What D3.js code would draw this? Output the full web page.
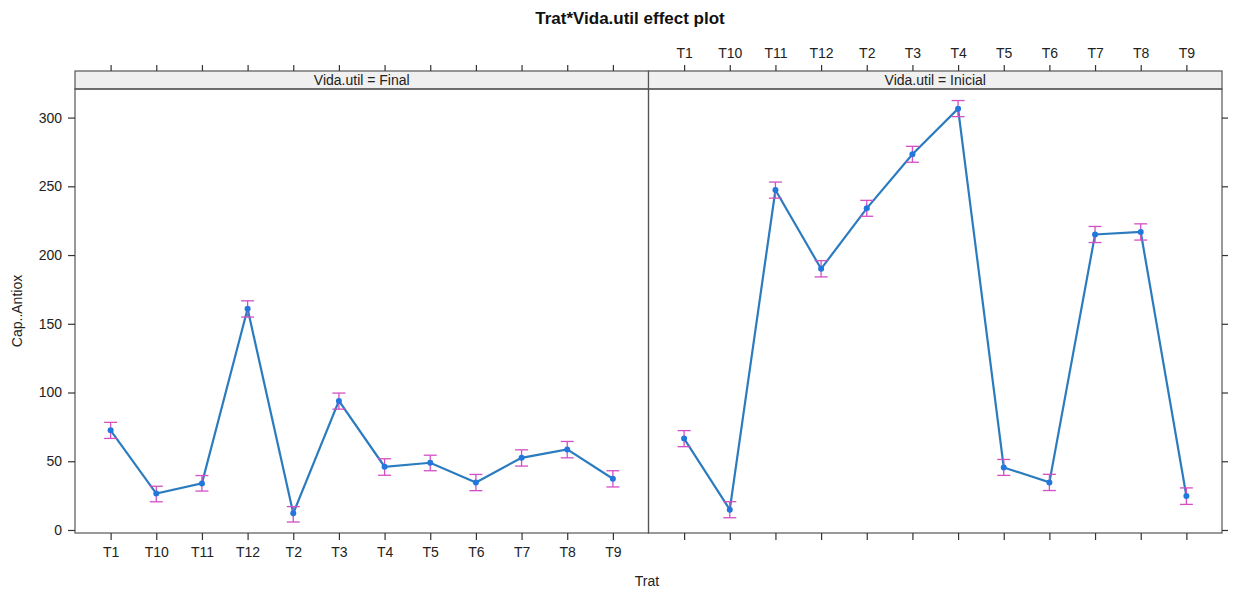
<!DOCTYPE html>
<html>
<head>
<meta charset="utf-8">
<script src="https://cdn.jsdelivr.net/npm/d3@7"></script>
<style>
  html, body { margin: 0; padding: 0; background: #fff; }
  svg { display: block; font-family: "Liberation Sans", Arial, sans-serif; }
</style>
</head>
<body>
<svg id="chart" width="1237" height="593"></svg>
<script>
// Treatment levels (factor order as R sorts them)
const categories = ["T1","T10","T11","T12","T2","T3","T4","T5","T6","T7","T8","T9"];
const panels = ["Final", "Inicial"];

// Fitted Cap..Antiox and 95% confidence limits, Vida.util = Final
const finalFit   = [72.5, 26.5, 33.9, 161.0, 12.1, 93.9, 46.0, 48.9, 34.6, 52.5, 58.6, 37.3];
const finalLower = [66.6, 20.5, 28.3, 154.9,  5.8, 87.9, 39.8, 43.1, 28.6, 46.5, 52.5, 31.3];
const finalUpper = [78.3, 31.8, 39.6, 166.7, 17.0, 99.6, 51.8, 54.4, 40.4, 58.3, 64.4, 43.1];

// Fitted Cap..Antiox and 95% confidence limits, Vida.util = Inicial
const inicialFit   = [66.5, 14.8, 247.3, 190.0, 234.0, 273.3, 306.5, 45.5, 34.6, 215.0, 216.8, 24.7];
const inicialLower = [60.6,  8.9, 241.4, 184.1, 228.2, 267.5, 300.7, 39.7, 28.7, 209.1, 210.9, 18.6];
const inicialUpper = [72.3, 20.6, 253.1, 195.9, 239.8, 279.1, 312.4, 51.3, 40.5, 220.8, 222.7, 30.6];

const yTicks = [0, 50, 100, 150, 200, 250, 300];

const title = "Trat*Vida.util effect plot";
const xLabel = "Trat";
const yLabel = "Cap..Antiox";

const series = {
  Final:   { fit: finalFit,   lower: finalLower,   upper: finalUpper },
  Inicial: { fit: inicialFit, lower: inicialLower, upper: inicialUpper }
};

// Layout
const plotLeft = 75, plotRight = 1222;
const stripTop = 71, stripBottom = 89, plotBottom = 533;
const panelW = (plotRight - plotLeft) / panels.length;

const svg = d3.select("#chart");
const textColor = "#222";
const axisColor = "#555";
const tickFont = 14;

const y = d3.scaleLinear().domain([-2.2, 320.8]).range([plotBottom, stripBottom]);

// Title
svg.append("text")
  .attr("x", 630).attr("y", 24)
  .attr("text-anchor", "middle")
  .attr("font-size", 17).attr("font-weight", "bold")
  .attr("fill", "#111")
  .text(title);

// Axis labels
svg.append("text")
  .attr("x", 647).attr("y", 586)
  .attr("text-anchor", "middle")
  .attr("font-size", 14).attr("fill", textColor)
  .text(xLabel);

svg.append("text")
  .attr("transform", "translate(22,311) rotate(-90)")
  .attr("text-anchor", "middle")
  .attr("font-size", 14).attr("fill", textColor)
  .text(yLabel);

panels.forEach((p, i) => {
  const x0 = plotLeft + i * panelW;
  const x1 = x0 + panelW;
  const x = d3.scalePoint().domain(categories).range([x0, x1]).padding(0.78);
  const g = svg.append("g");

  // Strip
  g.append("rect")
    .attr("x", x0).attr("y", stripTop)
    .attr("width", panelW).attr("height", stripBottom - stripTop)
    .attr("fill", "#f0f0f0").attr("stroke", axisColor).attr("stroke-width", 1.2);
  g.append("text")
    .attr("x", (x0 + x1) / 2).attr("y", stripBottom - 4)
    .attr("text-anchor", "middle").attr("font-size", 14).attr("fill", textColor)
    .text("Vida.util = " + p);

  // Panel frame
  g.append("rect")
    .attr("x", x0).attr("y", stripBottom)
    .attr("width", panelW).attr("height", plotBottom - stripBottom)
    .attr("fill", "none").attr("stroke", axisColor).attr("stroke-width", 1.2);

  // Bottom axis: labels on the first panel only
  const bottom = g.append("g").attr("transform", `translate(0,${plotBottom})`)
    .call(d3.axisBottom(x).tickSize(7).tickPadding(7).tickFormat(i === 0 ? (d => d) : () => ""));
  // Top axis: labels on the last panel only
  const top = g.append("g").attr("transform", `translate(0,${stripTop})`)
    .call(d3.axisTop(x).tickSize(6).tickPadding(7).tickFormat(i === panels.length - 1 ? (d => d) : () => ""));
  [bottom, top].forEach(ax => {
    ax.select(".domain").remove();
    ax.selectAll(".tick line").attr("stroke", "#333").attr("stroke-width", 1.2);
    ax.selectAll(".tick text").attr("font-size", tickFont).attr("fill", textColor)
      .attr("font-family", "'Liberation Sans', Arial, sans-serif");
  });

  const s = series[p];
  const pts = categories.map((c, k) => ({ c, fit: s.fit[k], lo: s.lower[k], hi: s.upper[k] }));

  // Fitted line
  g.append("path")
    .datum(pts)
    .attr("fill", "none").attr("stroke", "#2b7bbf").attr("stroke-width", 2.2)
    .attr("d", d3.line().x(d => x(d.c)).y(d => y(d.fit)));

  // Confidence bars
  const eb = g.append("g").attr("stroke", "#d24fc4").attr("stroke-width", 1.3).attr("fill", "none");
  pts.forEach(d => {
    const cx = x(d.c);
    eb.append("line").attr("x1", cx).attr("x2", cx).attr("y1", y(d.lo)).attr("y2", y(d.hi));
    eb.append("line").attr("x1", cx - 6.5).attr("x2", cx + 6.5).attr("y1", y(d.lo)).attr("y2", y(d.lo));
    eb.append("line").attr("x1", cx - 6.5).attr("x2", cx + 6.5).attr("y1", y(d.hi)).attr("y2", y(d.hi));
  });

  // Points
  g.selectAll("circle.pt").data(pts).join("circle")
    .attr("class", "pt")
    .attr("cx", d => x(d.c)).attr("cy", d => y(d.fit)).attr("r", 3)
    .attr("fill", "#2277dd");
});

// Left y axis with labels, right y axis with ticks only
const yl = svg.append("g").attr("transform", `translate(${plotLeft},0)`)
  .call(d3.axisLeft(y).tickValues(yTicks).tickSize(7).tickPadding(6));
const yr = svg.append("g").attr("transform", `translate(${plotRight},0)`)
  .call(d3.axisRight(y).tickValues(yTicks).tickSize(6).tickFormat(() => ""));
[yl, yr].forEach(ax => {
  ax.select(".domain").remove();
  ax.selectAll(".tick line").attr("stroke", "#333").attr("stroke-width", 1.2);
  ax.selectAll(".tick text").attr("font-size", tickFont).attr("fill", textColor)
    .attr("font-family", "'Liberation Sans', Arial, sans-serif");
});
</script>
</body>
</html>
